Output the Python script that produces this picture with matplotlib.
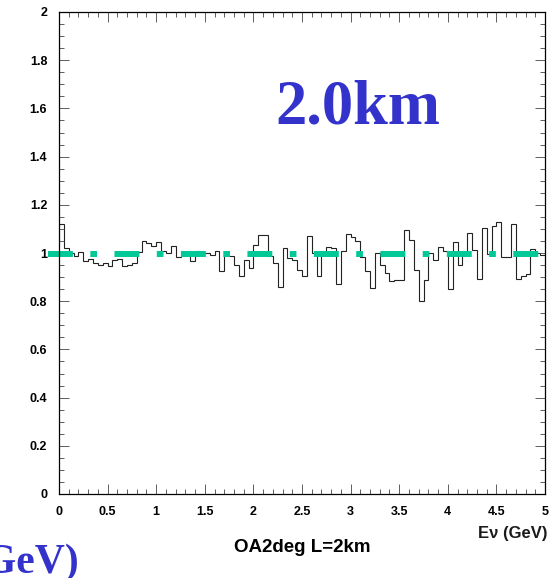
import numpy as np
import matplotlib
matplotlib.use('Agg')
import matplotlib.pyplot as plt
from matplotlib.ticker import MultipleLocator

# Razao por bin (100 bins de 0.05 GeV, de 0 a 5 GeV)
ratio = [1.12, 1.02, 1.00, 0.986, 1.003, 0.965, 0.975, 0.958, 0.951, 0.958,
         0.944, 0.972, 0.975, 0.944, 0.950, 0.960, 1.003, 1.048, 1.041, 1.030,
         1.046, 1.010, 1.000, 1.028, 0.982, 0.995, 1.000, 0.965, 1.010, 1.000,
         1.000, 0.990, 1.008, 0.927, 0.990, 0.986, 0.950, 0.903, 0.970, 0.938,
         1.034, 1.075, 1.075, 0.986, 0.960, 0.857, 1.020, 0.980, 0.970, 0.931,
         0.903, 1.069, 1.000, 0.906, 1.000, 1.023, 1.020, 0.872, 1.007, 1.080,
         1.066, 1.050, 0.985, 0.924, 0.855, 1.000, 0.951, 0.917, 0.882, 0.886,
         0.886, 1.097, 1.055, 0.931, 0.800, 0.889, 1.000, 0.972, 1.023, 1.007,
         0.850, 1.044, 0.951, 0.990, 1.083, 1.014, 0.892, 1.104, 0.997, 1.110,
         1.128, 0.983, 0.983, 1.120, 0.892, 0.906, 0.913, 1.017, 1.000, 0.990]
e_min, e_max = 0.0, 5.0

# Linha de referencia (verde) em razao = 1
ref_x = [-0.11, 5.0]
ref_y = [0.995, 0.995]

x_ticks = [0, 0.5, 1, 1.5, 2, 2.5, 3, 3.5, 4, 4.5, 5]
x_tick_labels = ['0', '0.5', '1', '1.5', '2', '2.5', '3', '3.5', '4', '4.5', '5']
y_ticks = [0, 0.2, 0.4, 0.6, 0.8, 1, 1.2, 1.4, 1.6, 1.8, 2]
y_tick_labels = ['0', '0.2', '0.4', '0.6', '0.8', '1', '1.2', '1.4', '1.6', '1.8', '2']

W, H = 560, 578
fig = plt.figure(figsize=(W / 100, H / 100), dpi=100)
ax = fig.add_axes([59 / W, 1 - 494 / H, 486 / W, 482 / H])

edges = np.linspace(e_min, e_max, len(ratio) + 1)
ax.stairs(ratio, edges, color='#222222', linewidth=0.8, baseline=None)

ax.plot(ref_x, ref_y, color='#00c896', linewidth=4.3, clip_on=False,
        linestyle=(0, (4.17, 2.92, 1.12, 2.92)), solid_capstyle='butt')

ax.set_xlim(e_min, e_max)
ax.set_ylim(0, 2)
ax.set_xticks(x_ticks)
ax.set_xticklabels(x_tick_labels)
ax.set_yticks(y_ticks)
ax.set_yticklabels(y_tick_labels)
ax.xaxis.set_minor_locator(MultipleLocator(0.1))
ax.yaxis.set_minor_locator(MultipleLocator(0.05))
ax.tick_params(which='both', direction='in', top=True, right=True,
               width=0.6, color='#444444')
ax.tick_params(which='major', length=7, pad=8.5)
ax.tick_params(which='minor', length=3.5)
for lab in ax.get_xticklabels() + ax.get_yticklabels():
    lab.set_fontfamily('Liberation Sans')
    lab.set_fontweight('bold')
    lab.set_fontsize(9)
for s in ax.spines.values():
    s.set_linewidth(0.9)

# Textos
ax.text(0.615, 0.768, '2.0km', transform=ax.transAxes, ha='center',
        va='baseline', fontsize=45, family='Liberation Serif',
        fontweight='bold', color='#3333cc')
fig.text(547 / W, 1 - 538 / H, 'E\u03bd (GeV)', ha='right', va='baseline',
         fontsize=12, family='Liberation Sans', fontweight='bold',
         color='#1a1a1a')
fig.text(302 / W, 1 - 552 / H, 'OA2deg L=2km', ha='center', va='baseline',
         fontsize=13.5, family='Liberation Sans', fontweight='bold')
fig.text(79 / W, 1 - 573 / H, 'GeV)', ha='right', va='baseline',
         fontsize=30, family='Liberation Serif', fontweight='bold',
         color='#3333cc')

fig.savefig('out.png', dpi=100)
